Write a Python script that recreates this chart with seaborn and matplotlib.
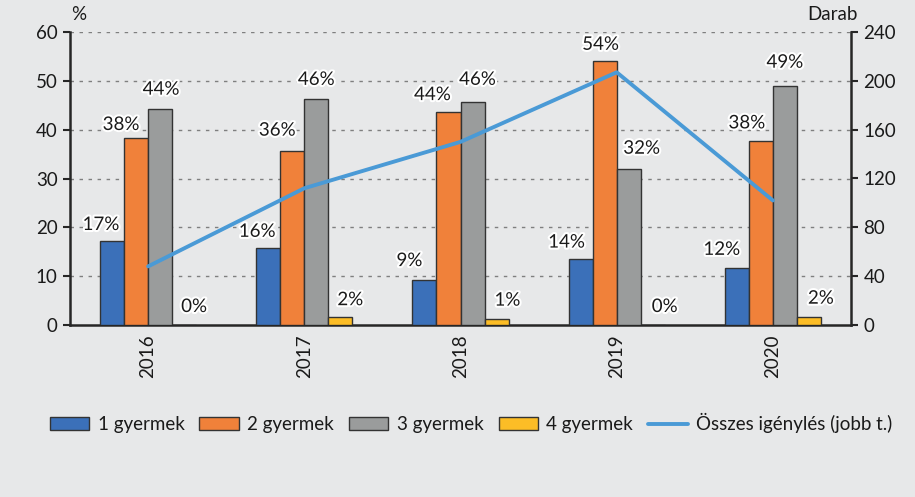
import numpy as np
import pandas as pd
import matplotlib
matplotlib.use("Agg")
import matplotlib.pyplot as plt
import matplotlib.patheffects as pe
from matplotlib.patches import Patch
from matplotlib.lines import Line2D
import seaborn as sns

years = ["2016", "2017", "2018", "2019", "2020"]
groups = ["1 gyermek", "2 gyermek", "3 gyermek", "4 gyermek"]
share_1 = [17.2, 15.8, 9.2, 13.6, 11.7]
share_2 = [38.3, 35.7, 43.6, 54.1, 37.6]
share_3 = [44.3, 46.3, 45.7, 32.0, 49.0]
share_4 = [0.0, 1.6, 1.3, 0.0, 1.7]
total_requests = [48, 112, 150, 207, 102]
line_label = "Összes igénylés (jobb t.)"

colors = ["#3b70b9", "#f0813a", "#9a9c9c", "#fcbd26"]
line_color = "#4a9ad6"
bg = "#e7e8e9"
dark = "#262626"
FS = 13.5

# label offsets in pixels (dx, dy) per group/year
label_dx = [[-11, -11, -15, -14, -15],
            [-15, -15, -16, -4, -14],
            [1, 0, 5, 13, 0],
            [10, 10, 11, 12, 12]]
label_dy = [[8, 8, 11, 8, 10],
            [5, 12, 9, 8, 10],
            [11, 11, 14, 12, 15],
            [10, 9, 10, 10, 10]]

shares = [share_1, share_2, share_3, share_4]
df = pd.DataFrame({
    "year": np.repeat([years], len(groups), axis=0).ravel(),
    "group": np.repeat(groups, len(years)),
    "value": np.concatenate(shares),
})

sns.set_style("white")
plt.rcParams["font.family"] = ["Lato", "DejaVu Sans"]

fig = plt.figure(figsize=(9.15, 4.97), dpi=100, facecolor=bg)
ax = fig.add_axes([70/915, 1-325/497, (851-70)/915, (325-32)/497])
ax.set_facecolor(bg)

sns.barplot(data=df, x="year", y="value", hue="group", hue_order=groups,
            order=years, palette=colors, width=0.615, saturation=1,
            edgecolor="#333333", linewidth=1, ax=ax, legend=False, zorder=3)

ax.set_ylim(0, 60)
ax.set_xlim(-0.5, len(years) - 0.5)
ax.set_yticks(np.arange(0, 61, 10))
ax.set_xlabel("")
ax.set_ylabel("")
for y in np.arange(10, 61, 10):
    ax.axhline(y, color="#7f7f7f", lw=1.0, ls=(0, (2.5, 4)), zorder=1)

# x ticks: marks at boundaries, labels at centers
ax.set_xticks(np.arange(-0.5, len(years)), labels=[""] * (len(years) + 1))
ax.set_xticks(np.arange(len(years)), labels=years, minor=True)
ax.tick_params(axis="x", which="major", length=6, width=1.5, color=dark, direction="out")
ax.tick_params(axis="x", which="minor", length=0, pad=7, labelsize=FS, labelrotation=90, labelcolor="#1a1a1a")
ax.tick_params(axis="y", length=5, width=1.5, color=dark, labelsize=FS, labelcolor="#1a1a1a", pad=4)

for s in ["top", "right"]:
    ax.spines[s].set_visible(False)
for s in ["left", "bottom"]:
    ax.spines[s].set_color(dark)
    ax.spines[s].set_linewidth(1.8)

# labels
px2pt = 72 / fig.dpi
for gi, cont in enumerate(ax.containers):
    for yi, bar in enumerate(cont):
        v = shares[gi][yi]
        xc = bar.get_x() + bar.get_width() / 2
        ax.annotate(f"{round(v)}%", (xc, bar.get_height()),
                    xytext=(label_dx[gi][yi] * px2pt, label_dy[gi][yi] * px2pt),
                    textcoords="offset points", ha="center", va="bottom",
                    fontsize=FS, color="#1a1a1a", zorder=6,
                    path_effects=[pe.withStroke(linewidth=3, foreground="white")])

ax2 = ax.twinx()
sns.lineplot(x=np.arange(len(years)), y=total_requests, ax=ax2, color=line_color,
             lw=2.8, zorder=5)
ax2.set_ylim(0, 240)
ax2.set_yticks(np.arange(0, 241, 40))
ax2.set_xlim(-0.5, len(years) - 0.5)
ax2.tick_params(axis="y", length=5, width=1.5, color=dark, labelsize=FS, labelcolor="#1a1a1a", pad=4)
for s in ["top", "left", "bottom"]:
    ax2.spines[s].set_visible(False)
ax2.spines["right"].set_color(dark)
ax2.spines["right"].set_linewidth(1.8)
ax2.set_ylabel("")

fig.text(79/915, 1-15/497, "%", fontsize=FS, ha="center", va="center", color="#1a1a1a")
fig.text(832/915, 1-15/497, "Darab", fontsize=FS, ha="center", va="center", color="#1a1a1a")

handles = [Patch(facecolor=c, edgecolor="#333333", lw=1) for c in colors]
handles.append(Line2D([0], [0], color=line_color, lw=2.8))
fig.legend(handles, groups + [line_label], loc="center", ncol=5,
           bbox_to_anchor=(471/915, 1-423/497), frameon=False, fontsize=FS,
           handlelength=2.1, handleheight=0.7, handletextpad=0.45,
           columnspacing=0.8, labelcolor="#1a1a1a")

fig.savefig("out.png", dpi=100, facecolor=bg)
